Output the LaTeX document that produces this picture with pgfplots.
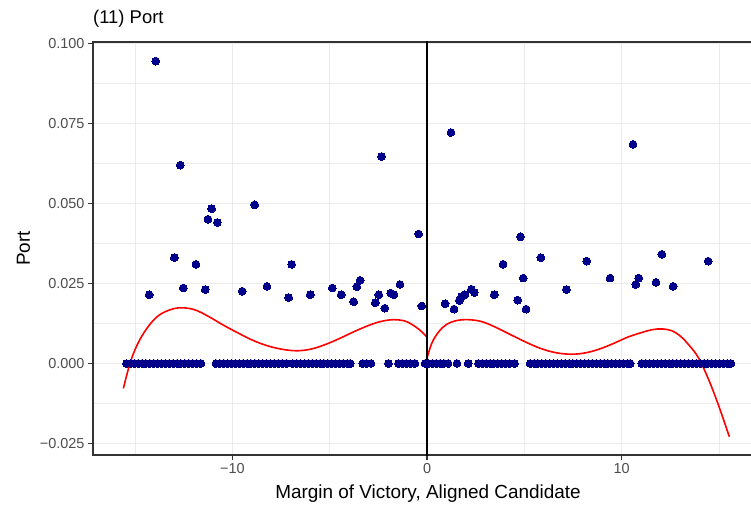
\documentclass[border=0pt]{standalone}
\usepackage{pgfplots}
\pgfplotsset{compat=1.18}
\usepackage{fontspec}
\setmainfont{Liberation Sans}
\definecolor{gridc}{RGB}{235,235,235}
\definecolor{bordc}{RGB}{51,51,51}
\definecolor{tickc}{RGB}{77,77,77}
\definecolor{ptc}{RGB}{0,0,139}
\begin{document}
\begin{tikzpicture}
\useasboundingbox (-93bp,-51bp) rectangle (658bp,455bp);
\begin{axis}[
  at={(0,0)}, anchor=south west,
  scale only axis, width=670bp, height=413bp,
  xmin=-17.17, xmax=17.27, ymin=-0.0286, ymax=0.1005,
  xtick={-10,0,10}, xticklabels={−10,0,10},
  minor xtick={-15,-5,5,15},
  ytick={-0.025,0,0.025,0.05,0.075,0.1},
  yticklabels={−0.025,0.000,0.025,0.050,0.075,0.100},
  minor ytick={-0.0125,0.0125,0.0375,0.0625,0.0875},
  grid=both,
  major grid style={gridc, line width=1.1bp},
  minor grid style={gridc, line width=0.55bp},
  axis line style={bordc, line width=1.1bp},
  tick align=outside, tick pos=left,
  major tick length=5bp, minor tick length=0bp,
  every tick/.style={bordc, line width=1.1bp},
  ticklabel style={font=\fontsize{14.5}{14.5}\selectfont, text=tickc},
  title={(11) Port},
  title style={at={(0,1)}, anchor=base west, yshift=13bp, inner sep=0pt, font=\fontsize{18.5}{18.5}\selectfont},
  xlabel={Margin of Victory, Aligned Candidate},
  ylabel={Port},
  xlabel style={at={(axis description cs:0.5,0)}, anchor=base, yshift=-43bp, inner sep=0pt, font=\fontsize{19}{19}\selectfont},
  ylabel style={at={([xshift=-63bp]axis description cs:0,0.5)}, anchor=base, rotate=0, inner sep=0pt, font=\fontsize{19}{19}\selectfont},
]
% zero-valued observations
\addplot[only marks, mark=*, mark size=3.9bp, ptc, mark options={draw=ptc, fill=ptc, line width=0pt}] coordinates {
(-15.45,0) (-15.25,0) (-15.05,0) (-14.85,0) (-14.65,0) (-14.45,0) (-14.25,0) (-14.05,0)
(-13.85,0) (-13.65,0) (-13.45,0) (-13.25,0) (-13.05,0) (-12.85,0) (-12.65,0) (-12.45,0)
(-12.25,0) (-12.05,0) (-11.85,0) (-11.62,0)
(-10.85,0) (-10.65,0) (-10.45,0) (-10.25,0) (-10.05,0) (-9.85,0) (-9.65,0) (-9.45,0)
(-9.25,0) (-9.05,0) (-8.85,0) (-8.65,0) (-8.45,0) (-8.25,0) (-8.05,0) (-7.85,0)
(-7.65,0) (-7.45,0) (-7.22,0)
(-6.90,0) (-6.70,0) (-6.50,0) (-6.30,0) (-6.10,0) (-5.90,0) (-5.70,0) (-5.50,0)
(-5.30,0) (-5.10,0) (-4.90,0) (-4.70,0) (-4.50,0) (-4.30,0) (-4.10,0) (-3.95,0)
(-3.30,0) (-3.10,0) (-2.88,0)
(-1.99,0)
(-1.47,0) (-1.27,0) (-1.07,0) (-0.87,0) (-0.62,0)
(-0.10,0) (0.07,0) (0.27,0) (0.47,0) (0.67,0) (0.87,0) (1.08,0)
(1.54,0) (2.12,0)
(2.64,0) (2.84,0) (3.04,0) (3.24,0) (3.44,0) (3.64,0) (3.84,0) (4.04,0) (4.24,0) (4.50,0)
(5.30,0) (5.50,0) (5.70,0) (5.90,0) (6.10,0) (6.30,0) (6.50,0) (6.70,0) (6.90,0) (7.10,0)
(7.30,0) (7.50,0) (7.70,0) (7.90,0) (8.10,0) (8.30,0) (8.50,0) (8.70,0) (8.90,0) (9.10,0)
(9.30,0) (9.50,0) (9.70,0) (9.90,0) (10.10,0) (10.30,0) (10.44,0)
(11.04,0) (11.24,0) (11.44,0) (11.64,0) (11.84,0) (12.04,0) (12.24,0) (12.44,0) (12.64,0)
(12.84,0) (13.04,0) (13.24,0) (13.44,0) (13.64,0) (13.84,0) (14.04,0) (14.24,0) (14.44,0)
(14.64,0) (14.84,0) (15.04,0) (15.24,0) (15.44,0) (15.62,0)
};
% positive observations
\addplot[only marks, mark=*, mark size=3.9bp, ptc, mark options={draw=ptc, fill=ptc, line width=0pt}] coordinates {
(-13.95,0.0945) (-12.68,0.0620) (-2.33,0.0647) (-11.07,0.0484) (-11.26,0.0451)
(-10.78,0.0441) (-8.86,0.0496) (-0.43,0.0405) (1.23,0.0722) (10.59,0.0685) (4.80,0.0396)
(-12.99,0.0331) (-14.28,0.0215) (-12.53,0.0236) (-11.88,0.0310) (-11.40,0.0231)
(-9.50,0.0226) (-8.23,0.0241) (-7.11,0.0206) (-6.96,0.0310) (-6.00,0.0215)
(-4.87,0.0236) (-4.41,0.0215) (-3.77,0.0193) (-3.61,0.0240) (-3.44,0.0260)
(-2.66,0.0190) (-2.48,0.0215) (-2.17,0.0173) (-1.87,0.0220) (-1.70,0.0215)
(-1.39,0.0247) (-0.27,0.0180)
(0.93,0.0187) (1.39,0.0170) (1.66,0.0197) (1.78,0.0209) (1.95,0.0215) (2.28,0.0232)
(2.43,0.0222) (3.46,0.0215) (3.91,0.0310) (4.66,0.0198) (4.94,0.0267) (5.09,0.0170)
(5.85,0.0331) (7.16,0.0231) (8.21,0.0320) (9.41,0.0267) (10.73,0.0247) (10.88,0.0267)
(11.77,0.0254) (12.07,0.0341) (12.65,0.0241) (14.45,0.0320)
};
% fitted curves
\addplot[red, line width=1.6bp, smooth, tension=0.6, no marks] coordinates {
(-15.61,-0.0078) (-15.27,0.0000) (-14.90,0.0058) (-14.40,0.0110) (-13.80,0.0150)
(-13.10,0.0170) (-12.53,0.0174) (-11.90,0.0167) (-11.20,0.0146) (-10.47,0.0120)
(-9.70,0.0095) (-8.90,0.0071) (-8.07,0.0053) (-7.30,0.0043) (-6.60,0.0040)
(-5.90,0.0046) (-5.20,0.0060) (-4.47,0.0079) (-3.70,0.0101) (-3.00,0.0119)
(-2.40,0.0131) (-1.73,0.0137) (-1.10,0.0132) (-0.60,0.0115) (-0.25,0.0098) (0.00,0.0082)
};
\addplot[red, line width=1.6bp, smooth, tension=0.6, no marks] coordinates {
(0.00,0.0017) (0.25,0.0064) (0.60,0.0099) (1.00,0.0122) (1.50,0.0134) (2.12,0.0137)
(2.81,0.0131) (3.50,0.0114) (4.30,0.0090) (5.04,0.0068) (5.80,0.0048) (6.60,0.0034)
(7.44,0.0029) (8.20,0.0034) (8.90,0.0046) (9.60,0.0063) (10.30,0.0082) (11.04,0.0097)
(11.60,0.0106) (12.10,0.0108) (12.60,0.0102) (13.05,0.0084) (13.50,0.0055)
(13.95,0.0018) (14.46,-0.0048) (14.98,-0.0130) (15.54,-0.0229)
};
% cutoff line
\addplot[black, line width=1.3bp, no marks] coordinates {(0,-0.04) (0,0.11)};
\end{axis}
\end{tikzpicture}
\end{document}
